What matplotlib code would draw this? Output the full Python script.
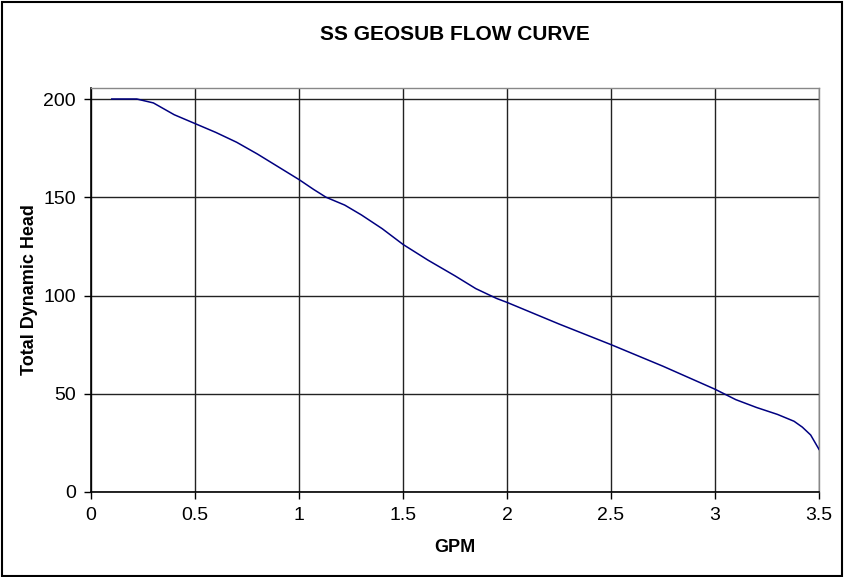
import matplotlib
matplotlib.use("Agg")
import matplotlib.pyplot as plt
from matplotlib.patches import Rectangle

gpm = [0.10, 0.22, 0.30, 0.40, 0.50, 0.60, 0.70, 0.80, 0.90, 1.00, 1.07, 1.13, 1.22, 1.30, 1.40, 1.50, 1.62, 1.75, 1.85, 1.95, 2.00, 2.25, 2.50, 2.75, 3.00, 3.10, 3.20, 3.30, 3.38, 3.42, 3.46, 3.50]
head = [200, 200, 198, 192, 187.5, 183, 178, 172, 165.5, 159, 154, 150, 146, 141, 134, 126, 118, 110, 103.5, 98.5, 96.5, 85.5, 75, 64, 52.3, 47, 43, 39.5, 36, 33, 29, 21.7]

title = "SS GEOSUB FLOW CURVE"
xlabel = "GPM"
ylabel = "Total Dynamic Head"
xticks = [0, 0.5, 1, 1.5, 2, 2.5, 3, 3.5]
xticklabels = ["0", "0.5", "1", "1.5", "2", "2.5", "3", "3.5"]
yticks = [0, 50, 100, 150, 200]

plt.rcParams['font.family'] = ['Liberation Sans', 'DejaVu Sans']

fig = plt.figure(figsize=(8.45, 5.77), dpi=100)
ax = fig.add_axes([91/845, 1-492/577, (819-91)/845, (492-88)/577])

ax.plot(gpm, head, color='#000080', lw=1.1, zorder=3)

ax.set_xlim(0, 3.5)
ax.set_ylim(0, 200 + 11/1.965)
ax.set_xticks(xticks)
ax.set_xticklabels(xticklabels)
ax.set_yticks(yticks)
ax.grid(True, color='#222222', lw=1.0)
ax.set_axisbelow(True)

for s in ['top', 'right']:
    ax.spines[s].set_color('#888888')
    ax.spines[s].set_linewidth(1.0)
for s in ['left', 'bottom']:
    ax.spines[s].set_color('black')
    ax.spines[s].set_linewidth(1.2)

ax.tick_params(direction='out', length=5, width=1, labelsize=14, colors='black', pad=6)

fig.text(455/845, 1-34/577, title, ha='center', va='center', fontsize=15, fontweight='bold')
fig.text(455/845, 1-548/577, xlabel, ha='center', va='center', fontsize=13, fontweight='bold')
fig.text(30/845, 1-290/577, ylabel, ha='center', va='center', fontsize=13, fontweight='bold', rotation=90)

fig.patches.append(Rectangle((0.002, 0.002), 0.995, 0.995, transform=fig.transFigure,
                             fill=False, edgecolor='black', lw=1.5))

fig.savefig("out.png", dpi=100)
